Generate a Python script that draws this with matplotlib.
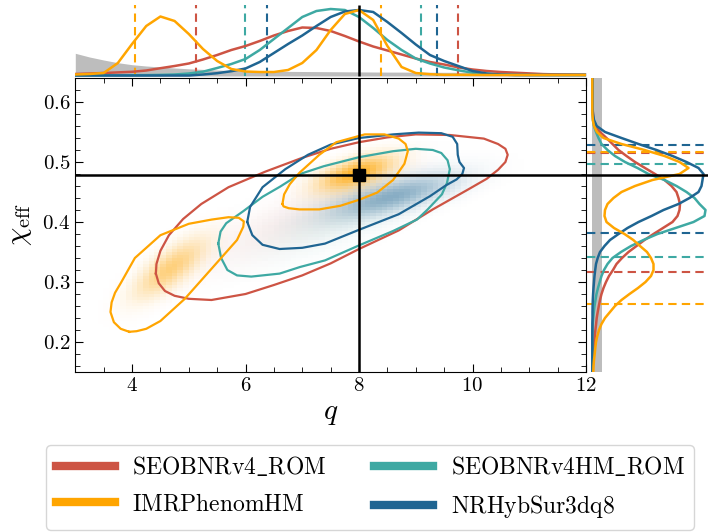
import numpy as np
import matplotlib
matplotlib.use("Agg")
import matplotlib.pyplot as plt
from matplotlib.lines import Line2D
from matplotlib.ticker import MultipleLocator
from matplotlib.colors import to_rgb

plt.rcParams['font.family'] = 'serif'
plt.rcParams['font.serif'] = ['cmr10']
plt.rcParams['mathtext.fontset'] = 'cm'
plt.rcParams['axes.formatter.use_mathtext'] = True

# waveform models (legend order) and their colours
labels = [r'$\mathrm{SEOBNRv4\_ROM}$', r'$\mathrm{IMRPhenomHM}$',
          r'$\mathrm{SEOBNRv4HM\_ROM}$', r'$\mathrm{NRHybSur3dq8}$']
colors = ['#cd5444', '#ffa500', '#3ea9a3', '#1f6592']
draw_order = [0, 2, 3, 1]

q_true = 8.0
chi_true = 0.478

# 90% credible bounds (lower, upper) per model
q_bounds = [(5.13, 9.75), (4.05, 8.38), (5.99, 9.09), (6.37, 9.37)]
chi_bounds = [(0.3165, 0.5145), (0.263, 0.5173), (0.3424, 0.4964), (0.3814, 0.5277)]

# marginal posterior of q (arbitrary units) on a 0.25 grid from 3 to 12
q_grid = np.linspace(3, 12, 37)
q_red = [2, 2.5, 3, 3.6, 4.2, 5.5, 7.8, 10, 12.5, 16.5, 21, 26, 30, 35, 40.5, 45, 48.5,
         48, 45, 40, 34.5, 29.5, 25.5, 21.5, 17.5, 14, 11.5, 8.6, 6.5, 5, 4, 3.3, 2.6,
         1.9, 1.6, 1.4, 1.2]
q_orange = [1.5, 2, 3, 13, 32, 50, 59.5, 55, 42, 27, 15, 7, 4.5, 4, 4, 6, 13, 26, 46,
            62, 66, 56, 30, 9, 3, 1.8, 1.2, 1.2, 1.1, 1, 1, 1, 1, 1, 1, 1, 1]
q_teal = [0.7, 0.7, 0.7, 0.7, 0.8, 0.9, 1.1, 1.5, 2.5, 4.3, 8, 12, 17, 26, 37, 48, 59,
          65, 67, 66, 59, 48, 36, 26, 17.5, 12.5, 8.5, 5.7, 3.3, 2, 1.3, 1.1, 1, 1, 1,
          1, 1]
q_blue = [0.5, 0.5, 0.5, 0.5, 0.5, 0.5, 0.5, 0.5, 0.5, 1.5, 2.8, 4.8, 7.5, 14, 23, 32,
          40.5, 50, 59, 64.5, 66, 64, 54, 43, 31.5, 21, 15, 10, 5, 2.5, 1.5, 1, 1, 1,
          1, 1, 1]
q_prior = [22.7, 19, 16, 13.3, 11.3, 10, 9, 8, 7.2, 6.6, 6.0, 5.5, 5.2, 5.0, 4.8, 4.6,
           4.5, 4.4, 4.3, 4.2, 4.1, 4.0, 3.9, 3.9, 3.8, 3.8, 3.7, 3.7, 3.6, 3.6, 3.6,
           3.5, 3.5, 3.5, 3.5, 3.4, 3.4]

# marginal posterior of chi_eff (arbitrary units) on a 0.01 grid from 0.15 to 0.64
chi_grid = np.linspace(0.15, 0.64, 50)
chi_red = [1.2, 1.4, 1.6, 2, 2.4, 2.8, 3.3, 3.9, 4.6, 5.2, 6.2, 7.3, 8.5, 10, 12, 14.5,
           17.5, 21.5, 25, 30.5, 37, 45, 53, 62, 71.5, 81, 86, 88, 88.5, 87, 85, 80, 73,
           63.5, 53.5, 43.5, 35, 27, 21, 15, 8.5, 3.5, 2, 1.5, 1, 1, 1, 1, 1, 1]
chi_orange = [1.8, 2, 2.5, 3.2, 3.8, 4.5, 5.8, 7.5, 10, 13.5, 18.5, 23.5, 30, 38, 46.5,
              54, 59.5, 62, 62, 59.5, 55.5, 48.5, 41.8, 33, 22.5, 15, 13, 13.5, 16, 22,
              30, 43.5, 61, 88, 97, 88, 73, 53, 30, 12, 5.5, 2.5, 1.3, 0.9, 0.8, 0.8,
              0.8, 0.8, 0.8, 0.8]
chi_teal = [0.8, 0.8, 0.8, 0.8, 0.8, 0.8, 0.8, 0.8, 1.2, 1.7, 2.3, 3, 4, 5, 6.5, 8.2,
            10, 12.5, 16, 21, 29.5, 39.5, 52, 66, 84, 102, 113, 114, 108, 103, 95, 85,
            73, 57, 46, 33.5, 23.5, 16, 10, 7, 4.5, 2.5, 1.5, 1, 1, 1, 1, 1, 1, 1]
chi_blue = [0.8, 0.8, 0.8, 0.8, 0.8, 0.8, 0.8, 0.9, 0.9, 1, 1, 1.1, 1.3, 1.6, 2, 2.5, 3,
            3.7, 4.5, 6.2, 8.5, 13, 18.5, 27, 36, 47, 60, 72, 87, 98, 107, 110, 111, 112,
            107, 95, 81, 65, 47, 30, 13.5, 5.2, 2.5, 1.5, 1, 1, 1, 1, 1, 1]
chi_prior_level = 10.0

q_marg = [q_red, q_orange, q_teal, q_blue]
chi_marg = [chi_red, chi_orange, chi_teal, chi_blue]

# 90% contours in the (q, chi_eff) plane
red_cq = [4.42, 4.47, 4.58, 4.75, 5.00, 5.40, 6.00, 6.50, 7.00, 7.50, 8.00, 8.70, 9.30,
          9.90, 10.25, 10.45, 10.58, 10.62, 10.58, 10.45, 10.20, 9.60, 9.00, 8.50, 8.00,
          7.50, 7.00, 6.35, 5.70, 5.22, 4.90, 4.65, 4.50, 4.43, 4.42]
red_cchi = [0.314, 0.298, 0.285, 0.277, 0.272, 0.270, 0.280, 0.295, 0.311, 0.331, 0.355,
            0.386, 0.421, 0.453, 0.472, 0.487, 0.500, 0.512, 0.522, 0.530, 0.539, 0.545,
            0.546, 0.541, 0.533, 0.522, 0.507, 0.484, 0.458, 0.430, 0.405, 0.378, 0.352,
            0.330, 0.314]
orange_lo_cq = [3.95, 3.80, 3.68, 3.62, 3.64, 3.70, 3.80, 4.05, 4.50, 5.00, 5.40, 5.70,
                5.88, 5.97, 5.96, 5.85, 5.40, 4.93, 4.50, 4.25, 4.08, 3.95]
orange_lo_cchi = [0.217, 0.222, 0.233, 0.250, 0.266, 0.282, 0.298, 0.340, 0.378, 0.397,
                  0.404, 0.408, 0.407, 0.401, 0.392, 0.370, 0.322, 0.272, 0.235, 0.222,
                  0.218, 0.217]
orange_hi_cq = [6.65, 6.68, 6.78, 6.95, 7.30, 7.60, 8.10, 8.45, 8.70, 8.82, 8.86, 8.80,
                8.60, 8.32, 8.00, 7.67, 7.30, 6.95, 6.76, 6.67, 6.65]
orange_hi_cchi = [0.430, 0.446, 0.463, 0.482, 0.512, 0.533, 0.546, 0.546, 0.539, 0.530,
                  0.518, 0.497, 0.470, 0.449, 0.437, 0.427, 0.421, 0.421, 0.423, 0.426,
                  0.430]
teal_cq = [5.52, 5.56, 5.66, 5.96, 6.30, 6.61, 6.96, 7.38, 8.00, 8.60, 9.00, 9.30, 9.45,
           9.56, 9.60, 9.55, 9.46, 9.20, 9.02, 8.60, 8.00, 7.40, 6.96, 6.60, 6.10, 5.85,
           5.68, 5.57, 5.52]
teal_cchi = [0.364, 0.384, 0.398, 0.418, 0.442, 0.459, 0.480, 0.493, 0.508, 0.518, 0.522,
             0.520, 0.515, 0.503, 0.488, 0.465, 0.446, 0.420, 0.404, 0.385, 0.361, 0.336,
             0.325, 0.314, 0.309, 0.311, 0.320, 0.340, 0.364]
blue_cq = [6.03, 6.08, 6.30, 6.70, 7.10, 7.50, 8.00, 8.60, 9.05, 9.45, 9.65, 9.73, 9.74,
           9.77, 9.85, 9.82, 9.72, 9.53, 9.25, 8.70, 8.00, 7.40, 7.00, 6.60, 6.30, 6.12,
           6.03]
blue_cchi = [0.400, 0.425, 0.458, 0.488, 0.512, 0.529, 0.540, 0.546, 0.549, 0.548, 0.542,
             0.530, 0.512, 0.500, 0.490, 0.480, 0.471, 0.461, 0.443, 0.413, 0.387, 0.364,
             0.357, 0.355, 0.362, 0.378, 0.400]
contours = [[(red_cq, red_cchi)],
            [(orange_lo_cq, orange_lo_cchi), (orange_hi_cq, orange_hi_cchi)],
            [(teal_cq, teal_cchi)],
            [(blue_cq, blue_cchi)]]

# density clouds: (q centre, chi centre, q width, chi width, correlation, peak)
blobs = [[(6.8, 0.40, 1.2, 0.055, 0.85, 0.10)],
         [(7.95, 0.482, 0.45, 0.020, 0.6, 1.0), (4.65, 0.322, 0.42, 0.033, 0.75, 0.6)],
         [(7.6, 0.40, 0.9, 0.04, 0.75, 0.12)],
         [(8.6, 0.443, 0.75, 0.025, 0.7, 0.6)]]

W, H = 708, 532


def px_rect(x0, y0, x1, y1):
    return [x0 / W, 1 - y1 / H, (x1 - x0) / W, (y1 - y0) / H]


fig = plt.figure(figsize=(W / 100, H / 100), dpi=100)
ax = fig.add_axes(px_rect(75.3, 78, 586, 372))
ax_t = fig.add_axes(px_rect(75.3, 4, 586, 78))
ax_r = fig.add_axes(px_rect(587, 78, 708, 372))

# --- main panel: shaded clouds -------------------------------------------
qq, cc = np.meshgrid(np.linspace(3, 12, 90), np.linspace(0.15, 0.64, 98))
for i in draw_order:
    dens = np.zeros_like(qq)
    for mq, mc, sq, sc, rho, amp in blobs[i]:
        u = (qq - mq) / sq
        v = (cc - mc) / sc
        dens += amp * np.exp(-(u * u - 2 * rho * u * v + v * v) / (2 * (1 - rho ** 2)))
    img = np.zeros(qq.shape + (4,))
    img[..., :3] = to_rgb(colors[i])
    img[..., 3] = np.clip(dens, 0, 1) * 0.85
    ax.imshow(img, extent=[3, 12, 0.15, 0.64], origin='lower', aspect='auto',
              interpolation='nearest', zorder=1)

for i in draw_order:
    for cq, cchi in contours[i]:
        ax.plot(cq, cchi, color=colors[i], lw=1.6, zorder=3)

ax.axvline(q_true, color='k', lw=1.8, zorder=4)
ax.axhline(chi_true, color='k', lw=1.8, zorder=4)
ax.plot(q_true, chi_true, 's', color='k', ms=9, zorder=5)

ax.set_xlim(3, 12)
ax.set_ylim(0.15, 0.64)
ax.xaxis.set_major_locator(MultipleLocator(2))
ax.xaxis.set_minor_locator(MultipleLocator(0.5))
ax.yaxis.set_major_locator(MultipleLocator(0.1))
ax.yaxis.set_minor_locator(MultipleLocator(0.02))
ax.tick_params(which='both', direction='in', top=True, right=True, labelsize=15)
ax.tick_params(which='major', length=6)
ax.tick_params(which='minor', length=3.5)
ax.set_xlabel('$q$', fontsize=21, labelpad=4)
ax.set_ylabel(r'$\chi_{\rm eff}$', fontsize=21, labelpad=6)

# --- top panel: q marginals -------------------------------------------------
ax_t.fill_between(q_grid, 0, q_prior, color='#bdbdbd', lw=0, zorder=1)
for i in draw_order:
    ax_t.plot(q_grid, q_marg[i], color=colors[i], lw=1.8, zorder=3)
    ax_t.vlines(q_bounds[i], 0, 71, colors=colors[i], linestyles=(0, (4, 2.5)), lw=1.5,
                zorder=2)
ax_t.vlines(q_true, 0, 71, colors='k', lw=1.8, zorder=4)
ax_t.set_xlim(3, 12)
ax_t.set_ylim(-2, 72)
ax_t.axis('off')

# --- right panel: chi_eff marginals -----------------------------------------
ax_r.fill_betweenx(chi_grid, 0, chi_prior_level, color='#bdbdbd', lw=0, zorder=1)
for i in draw_order:
    ax_r.plot(chi_marg[i], chi_grid, color=colors[i], lw=1.8, zorder=3)
    ax_r.hlines(chi_bounds[i], -4.5, 116.5, colors=colors[i], linestyles=(0, (4, 2.5)),
                lw=1.5, zorder=2)
ax_r.axhline(chi_true, color='k', lw=1.8, zorder=4)
ax_r.set_xlim(-4.5, 116.5)
ax_r.set_ylim(0.15, 0.64)
ax_r.axis('off')

handles = [Line2D([], [], color=c, lw=6) for c in colors]
fig.legend(handles, labels, ncol=2, loc='center',
           bbox_to_anchor=(370 / W, 1 - 487.5 / H), fontsize=17, handlelength=2.5,
           handletextpad=0.75, columnspacing=2.0, labelspacing=0.6, fancybox=True,
           edgecolor='#cccccc')

fig.savefig('out.png', dpi=100)
